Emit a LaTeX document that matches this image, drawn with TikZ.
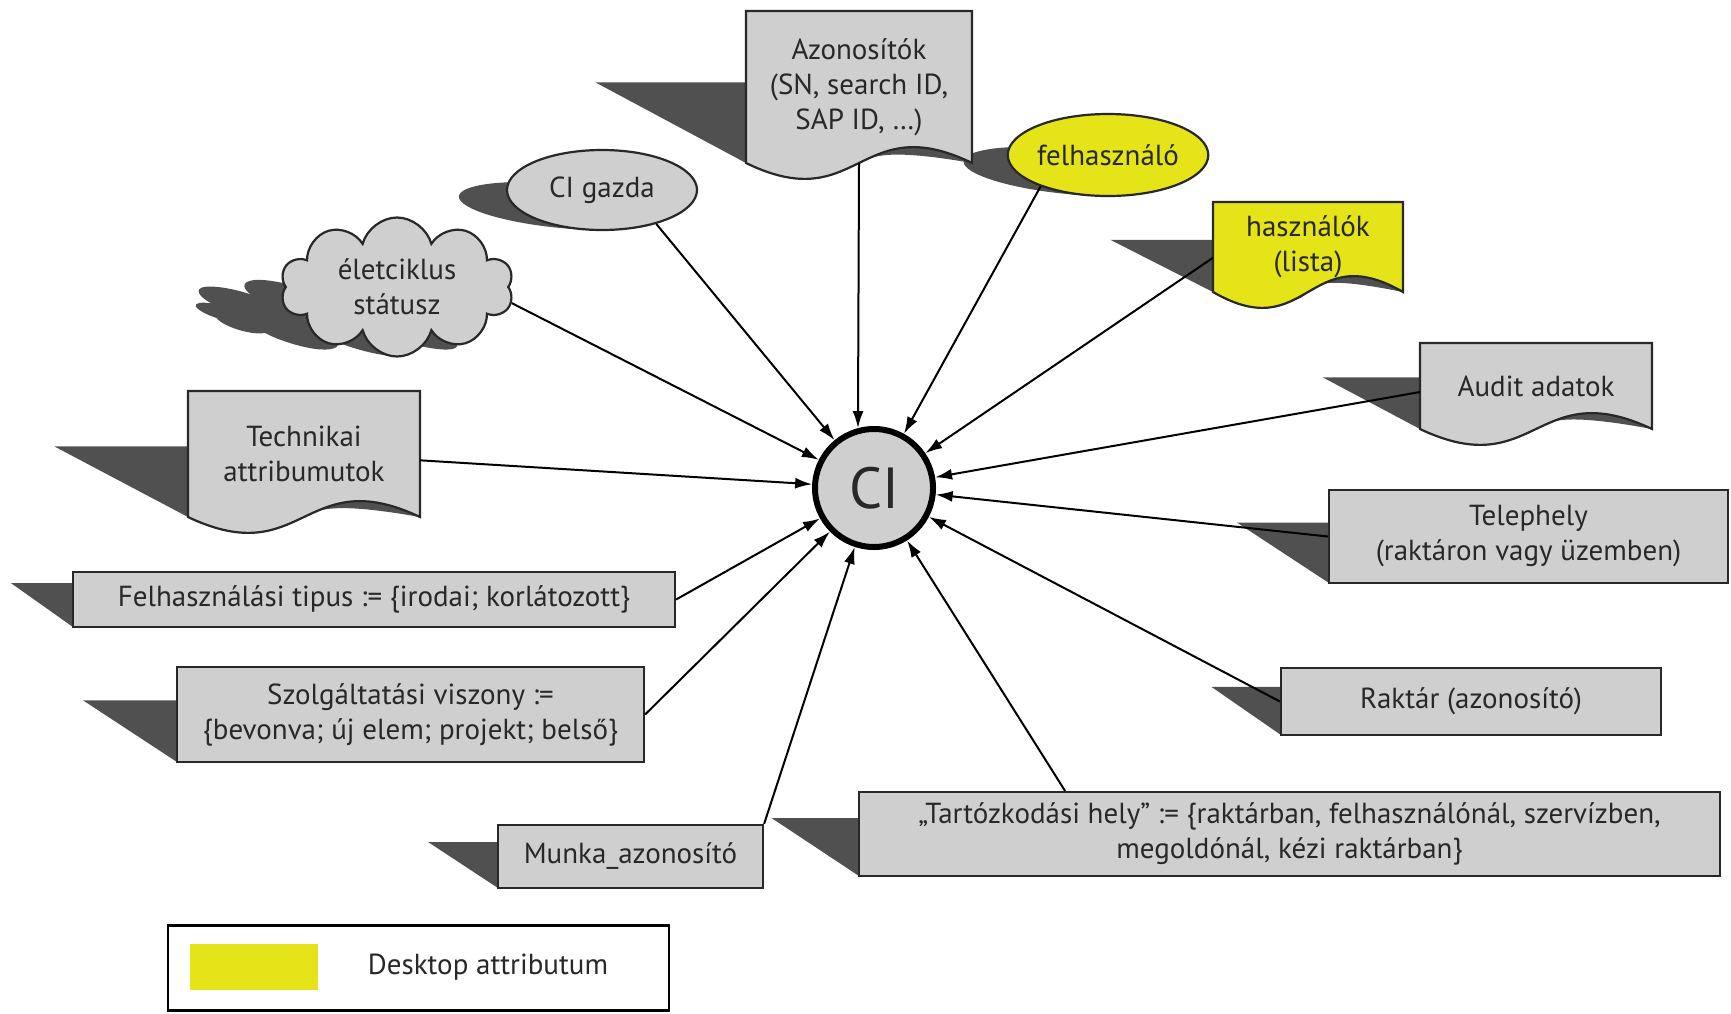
\documentclass[tikz,border=0pt]{standalone}
\usepackage{fontspec}
\setmainfont{PT Sans}
\usetikzlibrary{shapes.geometric,shapes.symbols,arrows.meta,calc}

\pgfdeclarelayer{paperlayer}
\pgfdeclarelayer{castlayer}
\pgfsetlayers{paperlayer,castlayer,main}

\definecolor{boxgray}{RGB}{207,207,207}
\definecolor{attryellow}{RGB}{228,228,24}
\definecolor{castgray}{RGB}{80,80,80}
\definecolor{inkc}{RGB}{40,40,40}

\newcommand\labelfont{\fontsize{29}{35}\selectfont}

\tikzset{
  outline/.style={draw=inkc, line width=2.2pt},
  caption/.style={font=\labelfont, text=inkc, align=center, inner sep=0pt},
  boxitem/.style={outline, caption, rectangle},
  castfill/.style={fill=castgray, draw=none},
  conn/.style={draw=black, line width=2pt, -{Latex[length=17pt,width=11pt]}},
  % slanted cast shadow: sheared to the left and flattened about the base line #1
  skewcast/.style n args={3}{shift={(0,#1)}, cm={1,0,-#2,#3,(0pt,0pt)}, shift={(0,-(#1))}},
}

% rectangle with cast shadow: name, x0, y0, x1, y1, shear, flattening, fill, text
\newcommand\rectitem[9]{%
  \begin{pgfonlayer}{castlayer}
    \fill[castfill, skewcast={#5}{#6}{#7}] (#2,#3) -- (#4,#3) -- (#4,#5) -- (#2,#5) -- cycle;
  \end{pgfonlayer}
  \pgfmathsetmacro\itemW{#4-#2}\pgfmathsetmacro\itemH{#5-#3}%
  \node[boxitem, fill=#8, minimum width=\itemW pt, minimum height=\itemH pt]
    (#1) at ({(#2+#4)/2},{(#3+#5)/2}) {#9};
}

% document shape (wavy lower edge) with cast shadow
\newcommand\docitem[9]{%
  \begin{pgfonlayer}{castlayer}
    \fill[castfill, skewcast={#5}{#6}{#7}] (#2,#3) -- (#2,#5)
      .. controls ({(#2+#4)/2},{#5+55}) and ({(#2+#4)/2},{#5-55}) .. (#4,#5) -- (#4,#3) -- cycle;
  \end{pgfonlayer}
  \path[outline, fill=#8] (#2,#3) -- (#2,#5)
      .. controls ({(#2+#4)/2},{#5+55}) and ({(#2+#4)/2},{#5-55}) .. (#4,#5) -- (#4,#3) -- cycle;
  \pgfmathsetmacro\itemW{#4-#2}\pgfmathsetmacro\itemH{#5-#3}%
  \node[caption, rectangle, minimum width=\itemW pt, minimum height=\itemH pt]
    (#1) at ({(#2+#4)/2},{(#3+#5)/2}) {#9};
}

% ellipse with cast shadow: name, cx, cy, rx, ry, shear, flattening, fill, text
\newcommand\ovalitem[9]{%
  \begin{pgfonlayer}{castlayer}
    \fill[castfill, skewcast={#3+#5}{#6}{#7}] (#2,#3) ellipse [x radius=#4pt, y radius=#5pt];
  \end{pgfonlayer}
  \node[outline, caption, ellipse, fill=#8, minimum width=2*#4pt, minimum height=2*#5pt]
    (#1) at (#2,#3) {#9};
}

\begin{document}
\begin{tikzpicture}[x=1pt, y=-1pt]
\begin{pgfonlayer}{paperlayer}
  \fill[white] (0,0) rectangle (1731,1013);
\end{pgfonlayer}
\useasboundingbox (0,0) rectangle (1731,1013);

% central configuration item
\node[circle, draw=black, line width=6pt, fill=boxgray, minimum size=118pt, inner sep=0pt,
      font=\fontsize{58}{62}\selectfont, text=inkc] (ci) at (874,488) {CI};

% attributes
\docitem{azon}{746}{11}{972}{163}{0.99}{0.53}{boxgray}{Azonosítók\\(SN, search ID,\\SAP ID, …)}
\ovalitem{felh}{1108}{155}{95}{41}{1.0}{0.6}{attryellow}{felhasználó}
\docitem{hasz}{1213}{202}{1403}{292}{1.14}{0.58}{attryellow}{használók\\(lista)}
\ovalitem{gazda}{602}{190}{95}{40}{1.0}{0.6}{boxgray}{CI gazda}

\begin{scope}[skewcast={356}{1.0}{0.55}]
  \begin{pgfonlayer}{castlayer}
    \node[castfill, cloud, cloud puffs=10, aspect=1.65, minimum width=233pt, minimum height=139pt,
          inner sep=0pt, transform shape] (eletcast) at (397,287) {};
  \end{pgfonlayer}
\end{scope}
\node[outline, caption, cloud, cloud puffs=10, aspect=1.65, fill=boxgray,
      minimum width=233pt, minimum height=139pt] (elet) at (397,287) {életciklus\\státusz};

\docitem{tech}{188}{391}{420}{517}{1.06}{0.56}{boxgray}{Technikai\\attribumutok}
\docitem{audit}{1420}{343}{1652}{429}{1.13}{0.6}{boxgray}{Audit adatok}
\rectitem{teleph}{1329}{490}{1728}{583}{0.99}{0.65}{boxgray}{Telephely\\(raktáron vagy üzemben)}
\rectitem{raktar}{1281}{668}{1661}{735}{1.04}{0.72}{boxgray}{Raktár (azonosító)}
\rectitem{tartoz}{859}{792}{1720}{876}{1.04}{0.69}{boxgray}{„Tartózkodási hely” := \{raktárban, felhasználónál, szervízben,\\megoldónál, kézi raktárban\}}
\rectitem{munka}{498}{825}{763}{888}{1.11}{0.73}{boxgray}{Munka\_azonosító}
\rectitem{szolg}{177}{667}{644}{762}{0.99}{0.65}{boxgray}{Szolgáltatási viszony :=\\\{bevonva; új elem; projekt; belső\}}
\rectitem{felhtip}{73}{572}{675}{627}{1.13}{0.8}{boxgray}{Felhasználási tipus := \{irodai; korlátozott\}}

% connectors into the CI
\draw[conn] (azon.south) -- (ci.105);
\draw[conn] (felh.205) -- (ci);
\draw[conn] ($(hasz.north west)!0.62!(hasz.south west)$) -- (ci);
\draw[conn] ($(audit.north west)!0.57!(audit.south west)$) -- (ci);
\draw[conn] (teleph.west) -- (ci);
\draw[conn] (raktar.west) -- (ci);
\draw[conn] ($(tartoz.north west)!0.24!(tartoz.north east)$) -- (ci);
\draw[conn] (munka.north east) -- (ci);
\draw[conn] (szolg.east) -- (ci);
\draw[conn] (felhtip.east) -- (ci);
\draw[conn] ($(tech.north east)!0.55!(tech.south east)$) -- (ci);
\draw[conn] (elet.-8) -- (ci);
\draw[conn] (gazda.-32) -- (ci);

% legend
\node[draw=black, line width=2.4pt, fill=white, minimum width=501pt, minimum height=85pt,
      inner sep=0pt] (legend) at (418.5,968) {};
\node[fill=attryellow, minimum width=128pt, minimum height=46pt, inner sep=0pt] (swatch) at (254,967) {};
\node[caption] (legendtext) at (488,967) {Desktop attributum};
\end{tikzpicture}
\end{document}
